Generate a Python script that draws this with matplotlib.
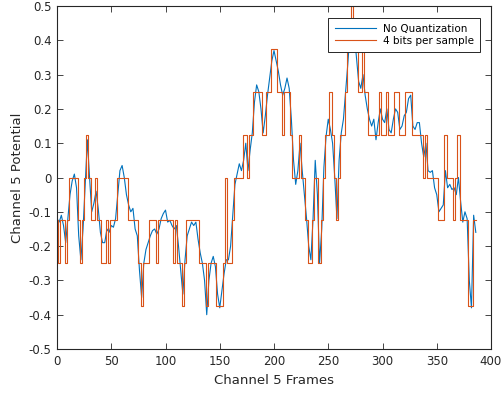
import matplotlib
matplotlib.use("Agg")
import matplotlib.pyplot as plt
import numpy as np

# frame index of every sample (every 2nd frame)
frames = np.arange(0, 388, 2)

# channel 5 potential, unquantized
raw = [
    -0.12, -0.13, -0.11, -0.14, -0.19, -0.12, -0.05, -0.01, 0.01, -0.03,
    -0.17, -0.24, -0.15, -0.02, 0.11, 0.0, -0.10, -0.075, -0.04, -0.09,
    -0.16, -0.19, -0.19, -0.15, -0.16, -0.14, -0.145, -0.12, -0.05, 0.02,
    0.035, 0.0, -0.05, -0.08, -0.10, -0.09, -0.15, -0.17, -0.27, -0.35,
    -0.25, -0.21, -0.19, -0.17, -0.155, -0.15, -0.165, -0.15, -0.12, -0.105,
    -0.095, -0.13, -0.125, -0.14, -0.15, -0.14, -0.20, -0.27, -0.34, -0.24,
    -0.17, -0.15, -0.13, -0.14, -0.13, -0.18, -0.22, -0.25, -0.30, -0.40,
    -0.30, -0.25, -0.23, -0.26, -0.34, -0.38, -0.33, -0.28, -0.24, -0.24,
    -0.20, -0.11, -0.02, 0.01, 0.04, 0.02, 0.05, 0.10, 0.02, 0.08,
    0.13, 0.22, 0.27, 0.25, 0.20, 0.13, 0.18, 0.24, 0.29, 0.34,
    0.37, 0.34, 0.31, 0.27, 0.24, 0.26, 0.29, 0.26, 0.17, 0.05,
    -0.02, 0.02, 0.10, 0.02, -0.05, -0.12, -0.20, -0.24, -0.12, 0.05,
    -0.05, -0.25, -0.15, 0.03, 0.12, 0.17, 0.14, 0.10, 0.0, -0.12,
    0.05, 0.13, 0.17, 0.25, 0.33, 0.42, 0.45, 0.42, 0.35, 0.28,
    0.26, 0.30, 0.24, 0.20, 0.17, 0.15, 0.17, 0.11, 0.16, 0.20,
    0.17, 0.16, 0.20, 0.14, 0.13, 0.17, 0.20, 0.19, 0.14, 0.15,
    0.18, 0.19, 0.23, 0.24, 0.15, 0.14, 0.16, 0.16, 0.10, 0.06,
    0.10, 0.02, 0.015, 0.02, -0.03, -0.05, -0.10, -0.09, -0.08, 0.02,
    -0.03, -0.02, -0.035, -0.03, -0.05, 0.0, -0.07, -0.13, -0.10, -0.12,
    -0.30, -0.38, -0.11, -0.16,
]

# 4 bit version, in steps of 1/8
levels = [
    -1, -2, -1, -1, -2, -1, 0, 0, 0, 0,
    -1, -2, -1, 0, 1, 0, -1, -1, 0, -1,
    -1, -2, -2, -1, -2, -1, -1, -1, 0, 0,
    0, 0, 0, -1, -1, -1, -1, -1, -2, -3,
    -2, -2, -2, -1, -1, -1, -2, -1, -1, -1,
    -1, -1, -1, -1, -2, -1, -2, -2, -3, -2,
    -1, -1, -1, -1, -1, -1, -2, -2, -2, -3,
    -2, -2, -2, -2, -3, -3, -3, -2, 0, -2,
    -2, -1, 0, 0, 0, 0, 1, 1, 0, 1,
    1, 2, 2, 2, 2, 1, 1, 2, 2, 3,
    3, 3, 2, 2, 1, 2, 2, 2, 1, 0,
    0, 0, 1, 0, 0, -1, -2, -2, -1, 0,
    0, -2, -1, 0, 1, 1, 2, 1, 0, -1,
    0, 1, 1, 2, 3, 3, 4, 3, 3, 2,
    2, 3, 2, 2, 1, 1, 1, 1, 1, 2,
    1, 1, 2, 1, 1, 1, 2, 2, 1, 1,
    1, 2, 2, 2, 1, 1, 1, 1, 1, 0,
    1, 0, 0, 0, 0, 0, -1, -1, -1, 1,
    0, 0, 0, -1, 0, 1, -1, -1, -1, -1,
    -3, -3, -1, -1,
]
quant = np.array(levels) / 8

plt.rcParams['font.family'] = 'DejaVu Sans'
fig = plt.figure(figsize=(5.03, 3.94), dpi=100)
ax = fig.add_axes([57 / 503, 1 - 349 / 394, 434 / 503, 343 / 394])

ax.plot(frames, raw, color='#0072BD', lw=0.8, label='No Quantization')
ax.plot(frames, quant, color='#D95319', lw=0.8, drawstyle='steps-mid',
        label='4 bits per sample')

ax.set_xlim(0, 400)
ax.set_ylim(-0.5, 0.5)
ax.set_xticks(np.arange(0, 401, 50))
yt = np.round(np.arange(-0.5, 0.51, 0.1), 1)
ax.set_yticks(yt)
ax.set_yticklabels(['0' if v == 0 else f'{v:g}' for v in yt])

gray = '#262626'
for s in ax.spines.values():
    s.set_color(gray)
    s.set_linewidth(0.8)
ax.tick_params(direction='in', top=True, right=True, length=4, width=0.6,
               labelsize=8.5, colors=gray, pad=4)
ax.set_xlabel('Channel 5 Frames', fontsize=9.5, color=gray, labelpad=5)
ax.set_ylabel('Channel 5 Potential', fontsize=9.5, color=gray, labelpad=3)

leg = ax.legend(loc='upper right', bbox_to_anchor=(0.975, 0.966),
                borderaxespad=0, fontsize=7.5, fancybox=False,
                handlelength=4.0, handletextpad=0.6, borderpad=0.62,
                labelspacing=0.15, framealpha=1)
leg.get_frame().set_edgecolor(gray)
leg.get_frame().set_linewidth(0.7)

fig.savefig('out.png', dpi=100)
